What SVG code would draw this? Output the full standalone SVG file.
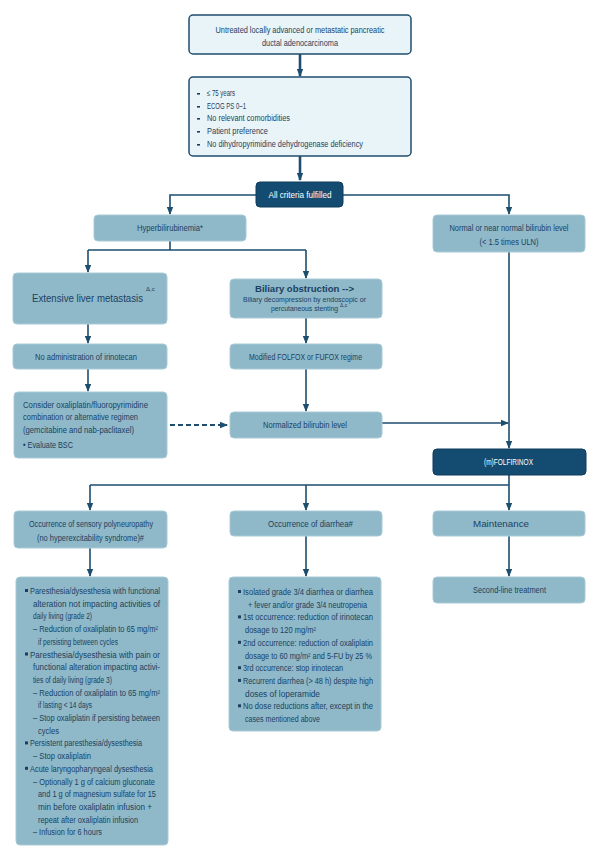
<svg xmlns="http://www.w3.org/2000/svg" width="600" height="862" viewBox="0 0 600 862">
<style>
.t{font-family:"Liberation Sans",Arial,sans-serif;font-size:8.5px;fill:#1b3f63}
.c{text-anchor:middle}
.w{fill:#ffffff}
.lt{fill:#e9f4f8;stroke:#1f4d6e;stroke-width:1.5}
.md{fill:#8fb9c8;stroke:#a8cad6;stroke-width:1}
.dk{fill:#144b70;stroke:#0f3d5c;stroke-width:1}
.ln{fill:none;stroke:#1d4d6f;stroke-width:1.6}
.b{fill:#1b3f63}
</style>
<defs>
<marker id="ah" markerUnits="userSpaceOnUse" markerWidth="8" markerHeight="8" viewBox="0 0 8 8" refX="7" refY="4" orient="auto">
<path d="M0,0.8 L8,4 L0,7.2 Z" fill="#1d4d6f"/>
</marker>
</defs>
<g id="connectors">
<path class="ln" d="M300,54 V76" style="stroke-width:2.6" marker-end="url(#ah)"/>
<path class="ln" d="M300,156 V180" style="stroke-width:2.6" marker-end="url(#ah)"/>
<path class="ln" d="M256,195 H170 V214" marker-end="url(#ah)"/>
<path class="ln" d="M343,195 H509 V214" marker-end="url(#ah)"/>
<path class="ln" d="M170,241 V250 M88,250 H306"/>
<path class="ln" d="M88,250 V272" marker-end="url(#ah)"/>
<path class="ln" d="M306,250 V278" marker-end="url(#ah)"/>
<path class="ln" d="M509,252 V448" marker-end="url(#ah)"/>
<path class="ln" d="M88,324 V343" marker-end="url(#ah)"/>
<path class="ln" d="M306,318 V343" marker-end="url(#ah)"/>
<path class="ln" d="M88,369 V391" marker-end="url(#ah)"/>
<path class="ln" d="M306,369 V411" marker-end="url(#ah)"/>
<path class="ln" d="M170,425 H227" style="stroke-dasharray:5,3;stroke-width:2" marker-end="url(#ah)"/>
<path class="ln" d="M382,423 H508" marker-end="url(#ah)"/>
<path class="ln" d="M509,475 V485 M90,485 H509"/>
<path class="ln" d="M90,485 V510" marker-end="url(#ah)"/>
<path class="ln" d="M306,485 V510" marker-end="url(#ah)"/>
<path class="ln" d="M509,485 V510" marker-end="url(#ah)"/>
<path class="ln" d="M90,548 V576" marker-end="url(#ah)"/>
<path class="ln" d="M306,536 V576" marker-end="url(#ah)"/>
<path class="ln" d="M509,536 V576" marker-end="url(#ah)"/>
</g>
<g id="n-start">
<rect class="lt" x="189" y="15" width="222" height="39" rx="4"/>
<text class="t c" x="300" y="33" textLength="169" lengthAdjust="spacingAndGlyphs">Untreated locally advanced or metastatic pancreatic</text>
<text class="t c" x="300" y="46" textLength="76" lengthAdjust="spacingAndGlyphs">ductal adenocarcinoma</text>
</g>
<g id="n-criteria">
<rect class="lt" x="189" y="77" width="222" height="79" rx="4"/>
<rect class="b" x="197" y="93" width="3" height="1.6"/>
<rect class="b" x="197" y="106" width="3" height="1.6"/>
<rect class="b" x="197" y="118" width="3" height="1.6"/>
<rect class="b" x="197" y="131" width="3" height="1.6"/>
<rect class="b" x="197" y="144" width="3" height="1.6"/>
<text class="t" x="207" y="96" textLength="28" lengthAdjust="spacingAndGlyphs">≤ 75 years</text>
<text class="t" x="207" y="109" textLength="39" lengthAdjust="spacingAndGlyphs">ECOG PS 0–1</text>
<text class="t" x="207" y="121" textLength="83" lengthAdjust="spacingAndGlyphs">No relevant comorbidities</text>
<text class="t" x="207" y="134" textLength="61" lengthAdjust="spacingAndGlyphs">Patient preference</text>
<text class="t" x="207" y="147" textLength="156" lengthAdjust="spacingAndGlyphs">No dihydropyrimidine dehydrogenase deficiency</text>
</g>
<g id="n-fulfilled">
<rect class="dk" x="256" y="182" width="87" height="25" rx="4"/>
<text class="t c w" x="300" y="198" textLength="63" lengthAdjust="spacingAndGlyphs">All criteria fulfilled</text>
</g>
<g id="n-hyper">
<rect class="md" x="94" y="215" width="152" height="26" rx="4"/>
<text class="t c" x="170" y="231" textLength="66" lengthAdjust="spacingAndGlyphs">Hyperbilirubinemia*</text>
</g>
<g id="n-normal">
<rect class="md" x="433" y="215" width="152" height="37" rx="4"/>
<text class="t c" x="509" y="231" textLength="119" lengthAdjust="spacingAndGlyphs">Normal or near normal bilirubin level</text>
<text class="t c" x="509" y="245" textLength="59" lengthAdjust="spacingAndGlyphs">(&lt; 1.5 times ULN)</text>
</g>
<g id="n-liver">
<rect class="md" x="13" y="273" width="154" height="51" rx="4"/>
<text class="t" x="32" y="302" style="font-size:10.5px" textLength="111" lengthAdjust="spacingAndGlyphs">Extensive liver metastasis</text>
<text class="t" x="146" y="291" style="font-size:6px">Δ,c</text>
</g>
<g id="n-biliary">
<rect class="md" x="230" y="279" width="152" height="39" rx="4"/>
<text class="t c" x="304.5" y="292" style="font-size:9.5px;font-weight:bold" textLength="99" lengthAdjust="spacingAndGlyphs">Biliary obstruction --&gt;</text>
<text class="t c" x="304.5" y="301.5" style="font-size:6.5px" textLength="123" lengthAdjust="spacingAndGlyphs">Biliary decompression by endoscopic or</text>
<text class="t c" x="304.5" y="311" style="font-size:6.5px" textLength="67" lengthAdjust="spacingAndGlyphs">percutaneous stenting</text>
<text class="t" x="340" y="307" style="font-size:5px">Δ,c</text>
</g>
<g id="n-noirino">
<rect class="md" x="13" y="344" width="154" height="25" rx="4"/>
<text class="t c" x="86" y="360" textLength="102" lengthAdjust="spacingAndGlyphs">No administration of irinotecan</text>
</g>
<g id="n-folfox">
<rect class="md" x="230" y="344" width="152" height="25" rx="4"/>
<text class="t c" x="305.5" y="360" textLength="113" lengthAdjust="spacingAndGlyphs">Modified FOLFOX or FUFOX regime</text>
</g>
<g id="n-consider">
<rect class="md" x="14" y="392" width="153" height="66" rx="4"/>
<text class="t" x="23" y="408" textLength="125" lengthAdjust="spacingAndGlyphs">Consider oxaliplatin/fluoropyrimidine</text>
<text class="t" x="23" y="420" textLength="115" lengthAdjust="spacingAndGlyphs">combination or alternative regimen</text>
<text class="t" x="23" y="433" textLength="111" lengthAdjust="spacingAndGlyphs">(gemcitabine and nab-paclitaxel)</text>
<text class="t" x="23" y="448" textLength="50" lengthAdjust="spacingAndGlyphs">• Evaluate BSC</text>
</g>
<g id="n-normalized">
<rect class="md" x="230" y="412" width="152" height="26" rx="4"/>
<text class="t c" x="305" y="428" textLength="84" lengthAdjust="spacingAndGlyphs">Normalized bilirubin level</text>
</g>
<g id="n-folfirinox">
<rect class="dk" x="433" y="449" width="153" height="26" rx="4"/>
<text class="t c w" x="508.5" y="465" textLength="49" lengthAdjust="spacingAndGlyphs">(m)FOLFIRINOX</text>
</g>
<g id="n-sensory">
<rect class="md" x="14" y="511" width="153" height="37" rx="4"/>
<text class="t c" x="91" y="527" textLength="124" lengthAdjust="spacingAndGlyphs">Occurrence of sensory polyneuropathy</text>
<text class="t c" x="90.5" y="541" textLength="107" lengthAdjust="spacingAndGlyphs">(no hyperexcitability syndrome)#</text>
</g>
<g id="n-diarrhea">
<rect class="md" x="230" y="511" width="152" height="25" rx="4"/>
<text class="t c" x="310.5" y="527" textLength="85" lengthAdjust="spacingAndGlyphs">Occurrence of diarrhea#</text>
</g>
<g id="n-maintenance">
<rect class="md" x="433" y="511" width="152" height="25" rx="4"/>
<text class="t c" x="501" y="527" textLength="56" lengthAdjust="spacingAndGlyphs">Maintenance</text>
</g>
<g id="n-second">
<rect class="md" x="433" y="577" width="152" height="26" rx="4"/>
<text class="t c" x="509.5" y="593" textLength="73" lengthAdjust="spacingAndGlyphs">Second-line treatment</text>
</g>
<g id="n-neuro-details">
<rect class="md" x="16" y="577" width="152" height="268" rx="4"/>
<rect class="b" x="25" y="589" width="3" height="3"/>
<text class="t" x="30" y="594" textLength="130" lengthAdjust="spacingAndGlyphs">Paresthesia/dysesthesia with functional</text>
<text class="t" x="33" y="606.7" textLength="127" lengthAdjust="spacingAndGlyphs">alteration not impacting activities of</text>
<text class="t" x="33" y="619.4" textLength="59" lengthAdjust="spacingAndGlyphs">daily living (grade 2)</text>
<text class="t" x="33" y="632.1" textLength="125" lengthAdjust="spacingAndGlyphs">– Reduction of oxaliplatin to 65 mg/m²</text>
<text class="t" x="38" y="644.8" textLength="80" lengthAdjust="spacingAndGlyphs">if persisting between cycles</text>
<rect class="b" x="25" y="652.5" width="3" height="3"/>
<text class="t" x="30" y="657.5" textLength="130" lengthAdjust="spacingAndGlyphs">Paresthesia/dysesthesia with pain or</text>
<text class="t" x="33" y="670.2" textLength="127" lengthAdjust="spacingAndGlyphs">functional alteration impacting activi-</text>
<text class="t" x="33" y="682.9" textLength="79" lengthAdjust="spacingAndGlyphs">ties of daily living (grade 3)</text>
<text class="t" x="33" y="695.6" textLength="127" lengthAdjust="spacingAndGlyphs">– Reduction of oxaliplatin to 65 mg/m²</text>
<text class="t" x="38" y="708.3" textLength="54" lengthAdjust="spacingAndGlyphs">if lasting &lt; 14 days</text>
<text class="t" x="33" y="721" textLength="127" lengthAdjust="spacingAndGlyphs">– Stop oxaliplatin if persisting between</text>
<text class="t" x="38" y="733.7" textLength="21" lengthAdjust="spacingAndGlyphs">cycles</text>
<rect class="b" x="25" y="741.4" width="3" height="3"/>
<text class="t" x="30" y="746.4" textLength="112" lengthAdjust="spacingAndGlyphs">Persistent paresthesia/dysesthesia</text>
<text class="t" x="33" y="759.1" textLength="58" lengthAdjust="spacingAndGlyphs">– Stop oxaliplatin</text>
<rect class="b" x="25" y="766.8" width="3" height="3"/>
<text class="t" x="30" y="771.8" textLength="123" lengthAdjust="spacingAndGlyphs">Acute laryngopharyngeal dysesthesia</text>
<text class="t" x="33" y="784.5" textLength="122" lengthAdjust="spacingAndGlyphs">– Optionally 1 g of calcium gluconate</text>
<text class="t" x="38" y="797.2" textLength="118" lengthAdjust="spacingAndGlyphs">and 1 g of magnesium sulfate for 15</text>
<text class="t" x="38" y="809.9" textLength="114" lengthAdjust="spacingAndGlyphs">min before oxaliplatin infusion +</text>
<text class="t" x="38" y="822.6" textLength="100" lengthAdjust="spacingAndGlyphs">repeat after oxaliplatin infusion</text>
<text class="t" x="33" y="835.3" textLength="69" lengthAdjust="spacingAndGlyphs">– Infusion for 6 hours</text>
</g>
<g id="n-diarrhea-details">
<rect class="md" x="229" y="577" width="152" height="154" rx="4"/>
<rect class="b" x="238" y="590" width="3" height="3"/>
<text class="t" x="243" y="595" textLength="130" lengthAdjust="spacingAndGlyphs">Isolated grade 3/4 diarrhea or diarrhea</text>
<text class="t" x="248" y="607.7" textLength="119" lengthAdjust="spacingAndGlyphs">+ fever and/or grade 3/4 neutropenia</text>
<rect class="b" x="238" y="615.4" width="3" height="3"/>
<text class="t" x="243" y="620.4" textLength="130" lengthAdjust="spacingAndGlyphs">1st occurrence: reduction of irinotecan</text>
<text class="t" x="245" y="633.1" textLength="71" lengthAdjust="spacingAndGlyphs">dosage to 120 mg/m²</text>
<rect class="b" x="238" y="640.8" width="3" height="3"/>
<text class="t" x="243" y="645.8" textLength="130" lengthAdjust="spacingAndGlyphs">2nd occurrence: reduction of oxaliplatin</text>
<text class="t" x="245" y="658.5" textLength="127" lengthAdjust="spacingAndGlyphs">dosage to 60 mg/m² and 5-FU by 25 %</text>
<rect class="b" x="238" y="666.2" width="3" height="3"/>
<text class="t" x="243" y="671.2" textLength="100" lengthAdjust="spacingAndGlyphs">3rd occurrence: stop irinotecan</text>
<rect class="b" x="238" y="678.9" width="3" height="3"/>
<text class="t" x="243" y="683.9" textLength="130" lengthAdjust="spacingAndGlyphs">Recurrent diarrhea (&gt; 48 h) despite high</text>
<text class="t" x="245" y="696.6" textLength="75" lengthAdjust="spacingAndGlyphs">doses of loperamide</text>
<rect class="b" x="238" y="704.3" width="3" height="3"/>
<text class="t" x="243" y="709.3" textLength="130" lengthAdjust="spacingAndGlyphs">No dose reductions after, except in the</text>
<text class="t" x="245" y="722" textLength="75" lengthAdjust="spacingAndGlyphs">cases mentioned above</text>
</g>
</svg>
